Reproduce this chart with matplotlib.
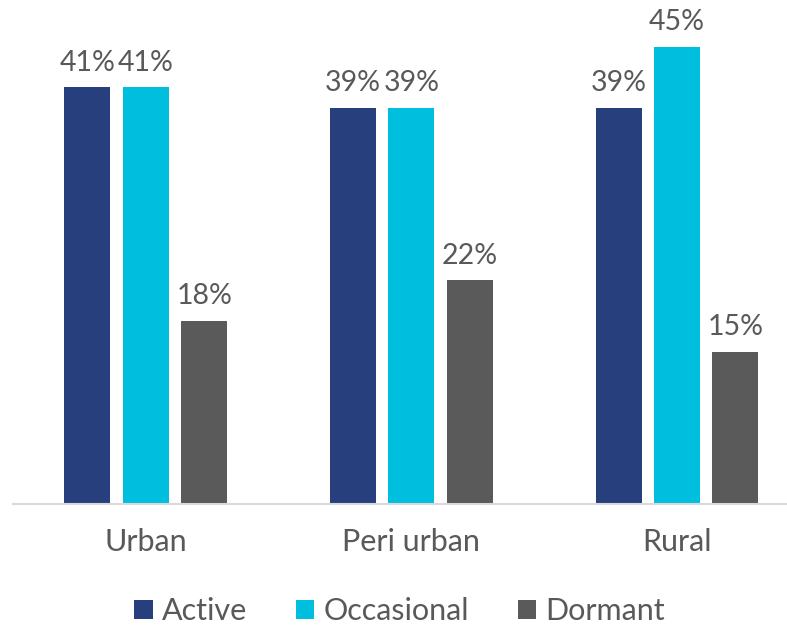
import numpy as np
import matplotlib.pyplot as plt

plt.rcParams['font.family'] = ['Lato', 'DejaVu Sans']

categories = ['Urban', 'Peri urban', 'Rural']
series_names = ['Active', 'Occasional', 'Dormant']
active = [41, 39, 39]
occasional = [41, 39, 45]
dormant = [18, 22, 15]
colors = ['#283F7E', '#00BFDE', '#5A5A5A']
text_color = '#595959'

fig = plt.figure(figsize=(7.87, 6.25), dpi=100)
ax = fig.add_axes([13 / 787, 121 / 625, 774 / 787, 504 / 625])

x = np.arange(len(categories))
width = 0.173
step = 0.22
for i, (vals, name, c) in enumerate(zip([active, occasional, dormant], series_names, colors)):
    bars = ax.bar(x + (i - 1) * step, vals, width, color=c, label=name)
    for b, v in zip(bars, vals):
        ax.text(b.get_x() + b.get_width() / 2, v + 1.65, f'{v}%', ha='center', va='baseline',
                fontsize=20.5, color=text_color)

ax.set_xlim(-0.5, 2.414)
ax.set_ylim(0, 49.6)
ax.set_yticks([])
ax.set_xticks(x)
ax.set_xticklabels(categories, fontsize=22, color=text_color)
ax.tick_params(axis='x', length=0, pad=17)
for s in ['top', 'right', 'left']:
    ax.spines[s].set_visible(False)
ax.spines['bottom'].set_color('#D9D9D9')
ax.spines['bottom'].set_linewidth(1.5)

leg = fig.legend(loc='center', bbox_to_anchor=(0.508, 0.022), ncol=3, frameon=False,
                 fontsize=22, handlelength=0.6, handleheight=0.6, handletextpad=0.3,
                 columnspacing=1.6, borderpad=0)
for t in leg.get_texts():
    t.set_color(text_color)

fig.savefig('out.png', dpi=100)
